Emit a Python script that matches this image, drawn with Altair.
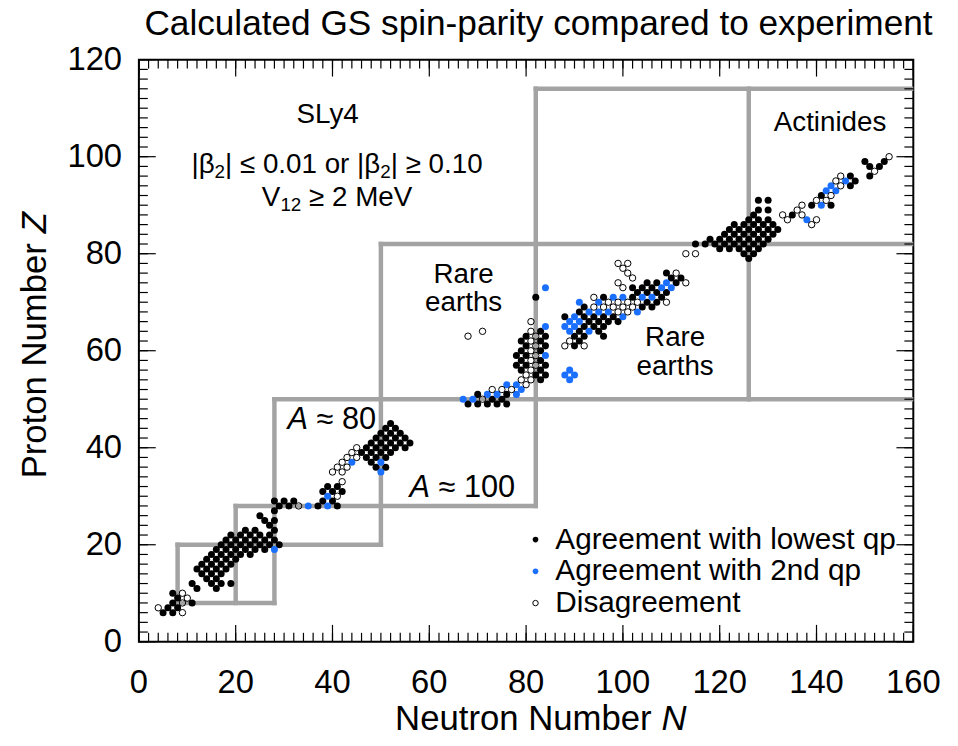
import altair as alt
import pandas as pd

TITLE = "Calculated GS spin-parity compared to experiment"
X_TITLE = ["Neutron Number", "N"]
Y_TITLE = ["Proton Number", "Z"]
X_TICKS = [0, 20, 40, 60, 80, 100, 120, 140, 160]
Y_TICKS = [0, 20, 40, 60, 80, 100, 120]
LEGEND = ["Agreement with lowest qp", "Agreement with 2nd qp", "Disagreement"]

# rows: proton number Z -> neutron numbers N
AGREE_LOWEST = {
    6: [5, 7], 7: [6, 8], 8: [7, 11], 9: [8], 10: [7],
    11: [12, 16], 12: [11, 15, 17, 19], 13: [14, 16], 14: [13, 15, 17],
    15: [12, 14, 16, 18], 16: [13, 15, 17, 19], 17: [14, 16, 18, 20],
    18: [15, 17, 19, 21, 23], 19: [16, 18, 20, 22, 24, 26],
    20: [17, 19, 21, 23, 25, 27, 29], 21: [18, 20, 22, 24, 26, 28],
    22: [19, 21, 23, 25, 27], 23: [22, 24, 28], 24: [27], 25: [26, 28],
    26: [25], 27: [28], 28: [29, 31, 37, 41], 29: [28, 30, 32, 38, 40],
    31: [38, 40, 42], 32: [39, 41],
    36: [49, 51], 37: [48], 38: [47, 49, 51], 39: [46, 48, 50, 52],
    40: [47, 49, 51, 53, 55], 41: [48, 50, 52, 54, 56], 42: [49, 51, 53, 55],
    43: [50, 52, 54], 44: [51, 53], 45: [52],
    49: [68, 70, 72, 74, 76], 50: [73, 75], 51: [70, 76],
    54: [83], 55: [82, 84], 56: [79, 83], 57: [78, 80, 84], 58: [79, 83],
    59: [78, 80], 60: [79, 83], 61: [80, 84, 90], 62: [79, 83, 91],
    63: [80, 84, 90, 92, 96], 64: [83, 91, 95], 65: [92, 94, 96],
    66: [93, 95, 97, 99], 67: [88, 92, 94, 96, 98], 68: [91],
    69: [92, 104, 106], 70: [105, 107], 71: [82, 96, 102, 108],
    72: [103, 105, 107, 109], 73: [102, 104, 106], 74: [105, 107, 111],
    75: [110, 112], 76: [109],
    79: [126], 80: [125, 127], 81: [120, 122, 124, 126, 128],
    82: [115, 117, 119, 121, 123, 125, 127, 129],
    83: [118, 120, 122, 124, 126, 128, 130],
    84: [121, 123, 125, 127, 129, 131],
    85: [122, 124, 126, 128, 130, 132],
    86: [123, 125, 127, 129, 131],
    87: [126, 128, 130], 88: [127, 135], 89: [128, 130], 90: [139, 143],
    91: [128, 130], 92: [141], 94: [147], 95: [148], 96: [147, 151],
    98: [151, 153], 99: [150, 154],
}

AGREE_2ND = {
    19: [28], 28: [35, 39], 30: [39], 35: [50], 37: [44, 50],
    50: [67, 69], 51: [72, 74, 78], 52: [79], 53: [76, 78],
    54: [89], 55: [88, 90], 56: [89], 59: [84], 64: [89, 93], 65: [84, 88, 90],
    66: [89, 91], 67: [90, 100], 68: [93, 95, 97, 103], 70: [91, 95],
    71: [98, 100, 104, 106], 73: [84, 108, 110], 74: [109],
    87: [138], 90: [141], 93: [142, 144], 94: [143], 95: [146],
}

DISAGREE = {
    6: [9], 7: [4], 8: [9], 9: [10], 10: [9],
    28: [33], 30: [41], 33: [42], 35: [40, 42], 36: [41, 43], 37: [42],
    38: [43, 45], 39: [44], 40: [45],
    50: [71], 52: [73, 75, 77], 53: [80], 54: [79, 81], 55: [80], 56: [81],
    57: [82], 58: [81], 59: [82], 60: [81], 61: [82, 88, 92], 62: [81, 89],
    63: [68, 82], 64: [71, 81], 66: [81],
    68: [99, 101], 69: [94, 96, 98, 100, 102], 70: [97, 99, 101, 103, 109],
    71: [94], 73: [100], 74: [99, 113], 75: [102], 76: [101, 111], 77: [100],
    78: [99, 101], 80: [113, 115],
    86: [139], 87: [134, 140], 88: [133, 137], 89: [136], 90: [137],
    91: [140, 142], 92: [143], 94: [145], 95: [144], 96: [145], 97: [152],
    100: [155],
}

# magic-number boxes: (N1, Z1, N2, Z2)
MAGIC_SEGMENTS = [
    (8, 8, 8, 20), (8, 8, 28, 8), (8, 20, 50, 20), (20, 8, 20, 28),
    (20, 28, 82, 28), (28, 8, 28, 50), (28, 50, 160, 50), (50, 20, 50, 82),
    (50, 82, 160, 82), (82, 28, 82, 114), (82, 114, 160, 114), (126, 50, 126, 114),
]

ANNOTATIONS = [
    ("SLy4", 39.0, 108.5),
    ("Actinides", 142.8, 106.9),
    ("Rare", 67.1, 75.6), ("earths", 67.1, 69.8),
    ("Rare", 110.8, 62.7), ("earths", 110.8, 56.7),
]
# text pieces: (text, font size, dx in px, dy in px)
BETA_LINE = [("|β", 28, 0, 0), ("2", 19, 23.3, 7), ("| ≤ 0.01 or |β", 28, 33.9, 0),
             ("2", 19, 190.4, 7), ("| ≥ 0.10", 28, 201.0, 0)]
V_LINE = [("V", 28, 0, 0), ("12", 19, 18.7, 7), ("≥ 2 MeV", 28, 47.6, 0)]
MASS_LABELS = [("A", "≈ 80", 30.7, 45.8), ("A", "≈ 100", 55.9, 31.7)]

W, H = 781, 587
BLUE = "#1a6fff"
GRAY = "#a3a3a3"
FONT = "Liberation Sans"


def to_frame(rows):
    return pd.DataFrame([{"N": n, "Z": z} for z, ns in rows.items() for n in ns])


xs = alt.Scale(domain=[0, 160], nice=False, zero=False)
ys = alt.Scale(domain=[0, 120], nice=False, zero=False)


def X(f):
    return alt.X(f + ":Q", scale=xs, axis=None)


def Y(f):
    return alt.Y(f + ":Q", scale=ys, axis=None)


def one(t):
    return pd.DataFrame({"t": [t]})


seg_df = pd.DataFrame(MAGIC_SEGMENTS, columns=["N1", "Z1", "N2", "Z2"])
segments = alt.Chart(seg_df).mark_rule(color=GRAY, strokeWidth=4.5, strokeCap="square", clip=True).encode(
    x=X("N1"), x2="N2:Q", y=Y("Z1"), y2="Z2:Q")

black = alt.Chart(to_frame(AGREE_LOWEST)).mark_circle(size=50, color="black", opacity=1).encode(
    x=X("N"), y=Y("Z"))
blue = alt.Chart(to_frame(AGREE_2ND)).mark_circle(size=50, color=BLUE, opacity=1).encode(
    x=X("N"), y=Y("Z"))
opened = alt.Chart(to_frame(DISAGREE)).mark_point(shape="circle", size=42, filled=False, color="black",
                                                   strokeWidth=1, opacity=1).encode(x=X("N"), y=Y("Z"))

minor_x = pd.DataFrame({"v": list(range(0, 161, 2))})
minor_y = pd.DataFrame({"v": list(range(0, 121, 2))})
major_x = pd.DataFrame({"v": X_TICKS})
major_y = pd.DataFrame({"v": Y_TICKS})
ticks = []
for df, ln in [(minor_x, 9), (major_x, 17)]:
    ticks.append(alt.Chart(df).mark_rule(color="black", strokeWidth=1.2).encode(
        x=X("v"), y=alt.value(H), y2=alt.value(H - ln)))
    ticks.append(alt.Chart(df).mark_rule(color="black", strokeWidth=1.2).encode(
        x=X("v"), y=alt.value(0), y2=alt.value(ln)))
for df, ln in [(minor_y, 9), (major_y, 17)]:
    ticks.append(alt.Chart(df).mark_rule(color="black", strokeWidth=1.2).encode(
        y=Y("v"), x=alt.value(0), x2=alt.value(ln)))
    ticks.append(alt.Chart(df).mark_rule(color="black", strokeWidth=1.2).encode(
        y=Y("v"), x=alt.value(W), x2=alt.value(W - ln)))

x_labels = alt.Chart(major_x).mark_text(fontSize=33, font=FONT, color="black", align="center",
                                        baseline="middle").encode(
    x=X("v"), y=alt.value(H + 42), text=alt.Text("v:Q", format="d"))
y_labels = alt.Chart(major_y).mark_text(fontSize=33, font=FONT, color="black", align="right",
                                        baseline="middle").encode(
    y=Y("v"), x=alt.value(-17), text=alt.Text("v:Q", format="d"))

ann_df = pd.DataFrame(ANNOTATIONS, columns=["t", "N", "Z"])
annotations = alt.Chart(ann_df).mark_text(fontSize=28, font=FONT, color="black", align="center",
                                          baseline="middle").encode(x=X("N"), y=Y("Z"), text="t:N")

pieces = []
for line, px, py in [(BETA_LINE, 53, 106), (V_LINE, 124, 140)]:
    for txt, fs, dx, dy in line:
        pieces.append(alt.Chart(one(txt)).mark_text(fontSize=fs, font=FONT, color="black", align="left",
                                                    baseline="middle", dx=dx, dy=dy).encode(
            x=alt.value(px), y=alt.value(py), text="t:N"))

mass_df = pd.DataFrame(MASS_LABELS, columns=["a", "rest", "N", "Z"])
mass_a = alt.Chart(mass_df).mark_text(fontSize=31, font=FONT, fontStyle="italic", color="black",
                                      align="left", baseline="middle").encode(x=X("N"), y=Y("Z"), text="a:N")
mass_rest = alt.Chart(mass_df).mark_text(fontSize=31, font=FONT, color="black", dx=29.3,
                                         align="left", baseline="middle").encode(x=X("N"), y=Y("Z"), text="rest:N")

# legend
leg_layers = []
leg_y = [484, 516, 548]
leg_marks = [
    dict(filled=True, color="black", size=32),
    dict(filled=True, color=BLUE, size=32),
    dict(filled=False, color="black", size=30, strokeWidth=1),
]
for lab, yy, mk in zip(LEGEND, leg_y, leg_marks):
    leg_layers.append(alt.Chart(one(lab)).mark_point(shape="circle", opacity=1, **mk).encode(
        x=alt.value(400), y=alt.value(yy)))
    leg_layers.append(alt.Chart(one(lab)).mark_text(fontSize=30, font=FONT, color="black", align="left",
                                                    baseline="middle").encode(
        x=alt.value(420), y=alt.value(yy), text="t:N"))

# titles
title_layer = alt.Chart(one(TITLE)).mark_text(
    fontSize=35.5, font=FONT, color="black", align="center", baseline="middle").encode(
    x=alt.value(403), y=alt.value(-36), text="t:N")
x_title_a = alt.Chart(one(X_TITLE[0])).mark_text(fontSize=35, font=FONT, color="black", align="right",
                                                 baseline="middle").encode(
    x=alt.value(517), y=alt.value(665), text="t:N")
x_title_b = alt.Chart(one(X_TITLE[1])).mark_text(fontSize=35, font=FONT, fontStyle="italic", color="black",
                                                 align="left", baseline="middle").encode(
    x=alt.value(527), y=alt.value(665), text="t:N")
y_title_a = alt.Chart(one(Y_TITLE[0])).mark_text(fontSize=35, font=FONT, color="black", align="right", angle=270,
                                                 baseline="middle").encode(
    x=alt.value(-105), y=alt.value(185), text="t:N")
y_title_b = alt.Chart(one(Y_TITLE[1])).mark_text(fontSize=35, font=FONT, fontStyle="italic", color="black",
                                                 align="left", angle=270, baseline="middle").encode(
    x=alt.value(-105), y=alt.value(175), text="t:N")

chart = alt.layer(
    segments, black, blue, opened, *ticks, x_labels, y_labels, annotations, *pieces, mass_a, mass_rest,
    *leg_layers, title_layer, x_title_a, x_title_b, y_title_a, y_title_b,
).properties(
    width=W, height=H,
    autosize=alt.AutoSizeParams(type="none"),
    padding={"left": 132, "top": 49, "right": 37, "bottom": 102},
).configure_view(stroke="black", strokeWidth=2)

chart.save("out.html", embed_options={"renderer": "svg", "actions": False})
